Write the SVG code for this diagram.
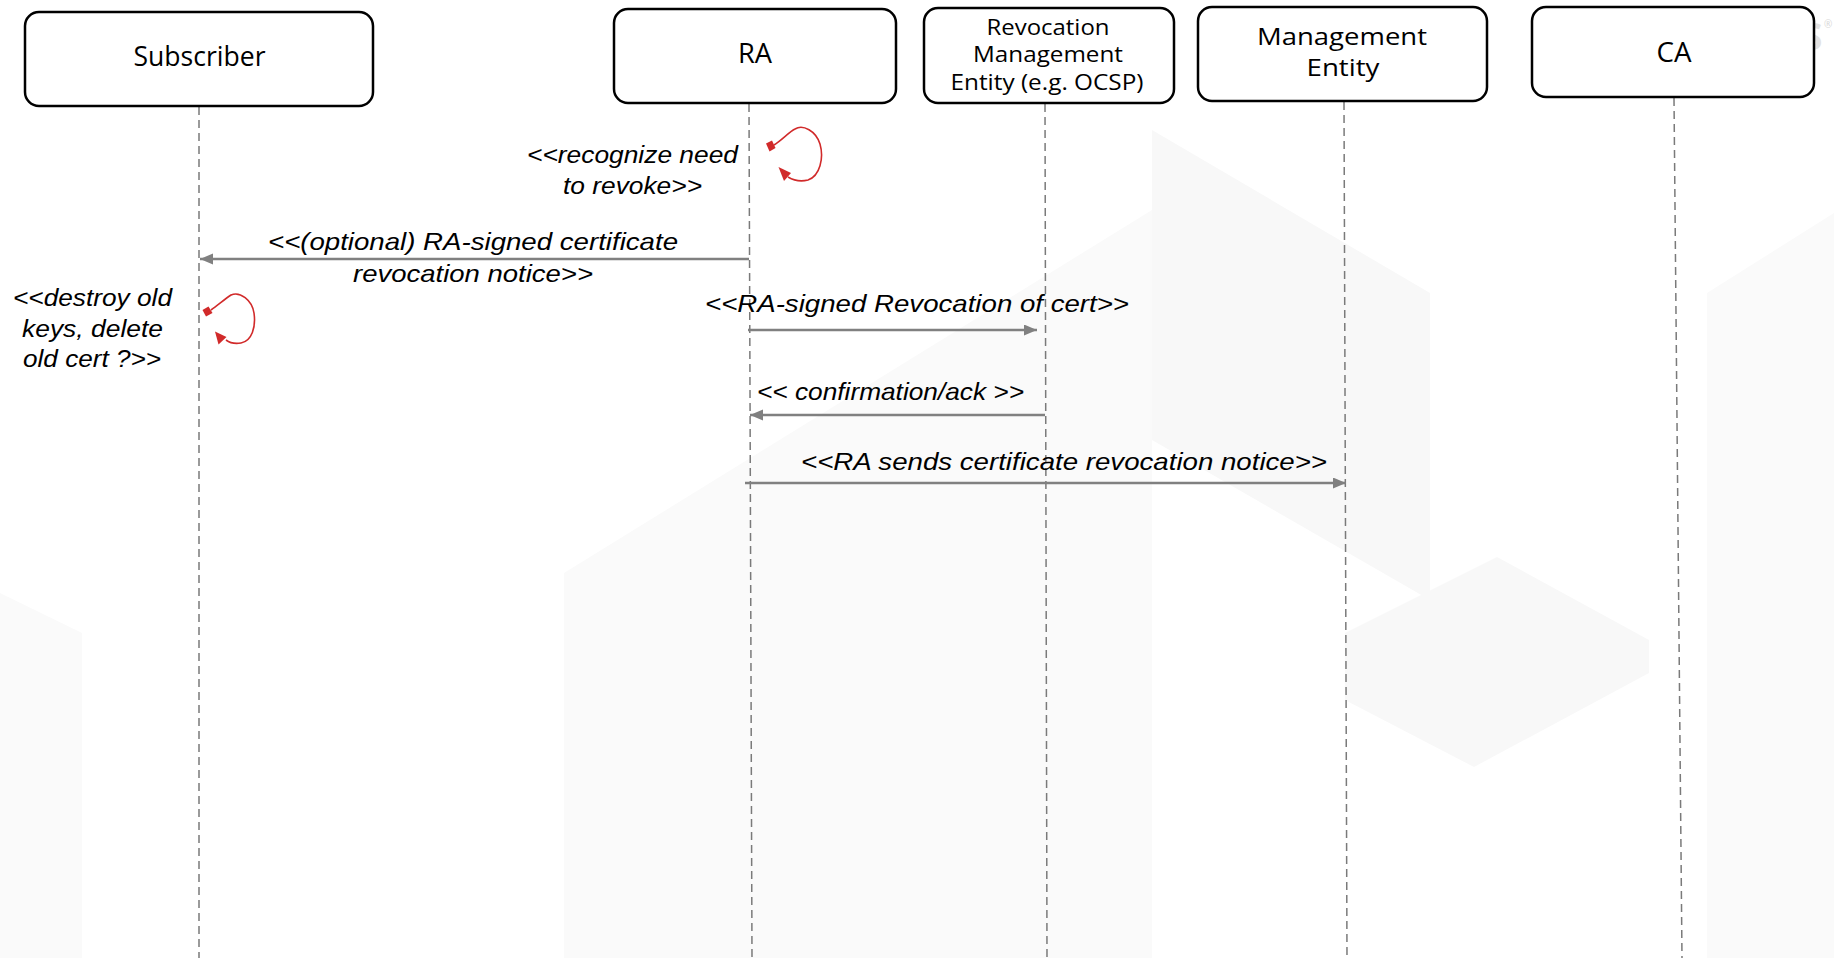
<svg xmlns="http://www.w3.org/2000/svg" width="1834" height="958" viewBox="0 0 1834 958">
<defs>
<style>
.box{fill:#ffffff;stroke:#000000;stroke-width:2.5}
.lbl{font-family:"Open Sans","Noto Sans",sans-serif;font-size:27px;fill:#000000;text-anchor:middle}
.lblm{font-family:"Open Sans","Noto Sans",sans-serif;font-size:23px;fill:#000000;text-anchor:middle}
.lbls{font-family:"Open Sans","Noto Sans",sans-serif;font-size:21px;fill:#000000;text-anchor:middle}
.life{stroke:#7a7a7a;stroke-width:1.5;stroke-dasharray:8 5;fill:none}
.msg{stroke:#808080;stroke-width:2.5;fill:none;marker-end:url(#arr)}
.it{font-family:"Liberation Sans",Arial,sans-serif;font-style:italic;font-size:24px;fill:#000000}
.loop{stroke:#d12a2a;stroke-width:1.6;fill:none}
.red{fill:#d12a2a}
.bg1{fill:#fafafa}
.bg2{fill:#f8f8f8}
</style>
<marker id="arr" markerUnits="userSpaceOnUse" markerWidth="14" markerHeight="12" refX="13" refY="5.5" orient="auto">
<path d="M0,0 L13,5.5 L0,11 z" fill="#808080"/>
</marker>
</defs>
<rect width="1834" height="958" fill="#ffffff"/>
<g id="background">
<polygon class="bg1" points="564,958 564,573 1152,210 1152,958"/>
<polygon class="bg2" points="1152,130 1430,293 1430,600 1152,440"/>
<polygon class="bg1" points="1707,293 1834,213 1834,958 1707,958"/>
<polygon class="bg2" points="1345,633 1497,557 1649,640 1649,673 1474,767 1345,700"/>
<polygon class="bg1" points="0,593 82,633 82,958 0,958"/>
<text x="1802" y="50" font-family="'Open Sans',sans-serif" font-weight="bold" font-size="37" fill="#e2e2e2">S</text>
<text x="1824" y="28" font-family="'Open Sans',sans-serif" font-size="10" fill="#d8d8d8">®</text>
</g>
<g id="lifelines">
<line class="life" x1="199" y1="107" x2="199" y2="958"/>
<line class="life" x1="749" y1="104" x2="752" y2="958"/>
<line class="life" x1="1045" y1="104" x2="1047" y2="958"/>
<line class="life" x1="1344" y1="102" x2="1347" y2="958"/>
<line class="life" x1="1674" y1="98" x2="1682" y2="958"/>
</g>
<g id="subscriber">
<rect class="box" x="25" y="12" width="348" height="94" rx="14"/>
<text class="lbl" x="199.5" y="66" textLength="132" lengthAdjust="spacingAndGlyphs">Subscriber</text>
</g>
<g id="ra">
<rect class="box" x="614" y="9" width="282" height="94" rx="14"/>
<text class="lbl" x="755" y="63" textLength="34" lengthAdjust="spacingAndGlyphs">RA</text>
</g>
<g id="revocation-management">
<rect class="box" x="924" y="8" width="250" height="95" rx="14"/>
<text class="lbls" x="1048" y="35" textLength="123" lengthAdjust="spacingAndGlyphs">Revocation</text>
<text class="lbls" x="1048" y="62" textLength="150" lengthAdjust="spacingAndGlyphs">Management</text>
<text class="lbls" x="1047" y="90" textLength="193" lengthAdjust="spacingAndGlyphs">Entity (e.g. OCSP)</text>
</g>
<g id="management-entity">
<rect class="box" x="1198" y="7" width="289" height="94" rx="14"/>
<text class="lblm" x="1342" y="44.5" textLength="170" lengthAdjust="spacingAndGlyphs">Management</text>
<text class="lblm" x="1343" y="76" textLength="73" lengthAdjust="spacingAndGlyphs">Entity</text>
</g>
<g id="ca">
<rect class="box" x="1532" y="7" width="282" height="90" rx="14"/>
<text class="lbl" x="1674" y="62" textLength="35" lengthAdjust="spacingAndGlyphs">CA</text>
</g>
<g id="connectors">
<line class="msg" x1="749" y1="259" x2="200" y2="259"/>
<line class="msg" x1="748" y1="330" x2="1037" y2="330"/>
<line class="msg" x1="1045" y1="415" x2="750" y2="415"/>
<line class="msg" x1="745" y1="483" x2="1346" y2="483"/>
<g id="ra-self-loop">
<polygon class="red" points="766,143.5 772,140.5 775.5,148 769.5,151.5"/>
<path class="loop" d="M774,145 C782,140 789,132 795,129 C803,124 816,131 820,144 C824,158 820,176 808,180 C800,182 793,180 788,177"/>
<polygon class="red" points="778.5,167 791,173 784,181"/>
</g>
<g id="subscriber-self-loop">
<polygon class="red" points="202.5,310 208.5,306.5 212.5,313 206,316.5"/>
<path class="loop" d="M211,310 C218,305 225,299 231,295 C240,291 252,300 254,313 C256,327 252,341 241,343 C235,344 230,343 226,340"/>
<polygon class="red" points="215,331.5 226.5,337 218.5,344.5"/>
</g>
</g>
<g id="labels">
<text class="it" x="268" y="250" textLength="410" lengthAdjust="spacingAndGlyphs">&lt;&lt;(optional) RA-signed certificate</text>
<text class="it" x="353" y="282" textLength="240" lengthAdjust="spacingAndGlyphs">revocation notice&gt;&gt;</text>
<text class="it" x="527" y="163" textLength="211" lengthAdjust="spacingAndGlyphs">&lt;&lt;recognize need</text>
<text class="it" x="563" y="194" textLength="139" lengthAdjust="spacingAndGlyphs">to revoke&gt;&gt;</text>
<text class="it" x="13" y="306" textLength="159" lengthAdjust="spacingAndGlyphs">&lt;&lt;destroy old</text>
<text class="it" x="22" y="337" textLength="141" lengthAdjust="spacingAndGlyphs">keys, delete</text>
<text class="it" x="23" y="367" textLength="138" lengthAdjust="spacingAndGlyphs">old cert ?&gt;&gt;</text>
<text class="it" x="705" y="312" textLength="424" lengthAdjust="spacingAndGlyphs">&lt;&lt;RA-signed Revocation of cert&gt;&gt;</text>
<text class="it" x="757" y="400" textLength="267" lengthAdjust="spacingAndGlyphs">&lt;&lt; confirmation/ack &gt;&gt;</text>
<text class="it" x="801" y="469.5" textLength="526" lengthAdjust="spacingAndGlyphs">&lt;&lt;RA sends certificate revocation notice&gt;&gt;</text>
</g>
</svg>
